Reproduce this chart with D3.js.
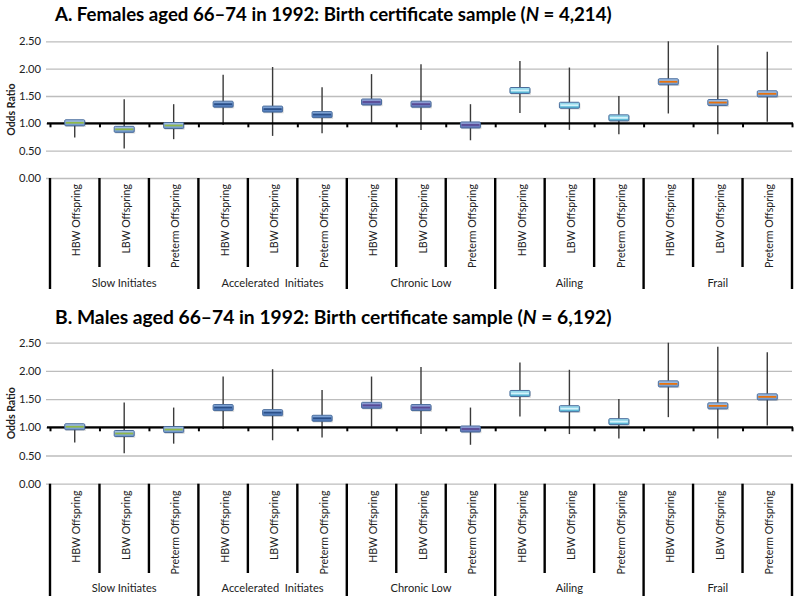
<!DOCTYPE html>
<html><head><meta charset="utf-8">
<script src="https://cdn.jsdelivr.net/npm/d3@7"></script>
<style>
html,body{margin:0;padding:0;background:#fff;}
svg{display:block;font-family:Lato,"Open Sans",sans-serif;}
</style></head>
<body>
<svg id="chart" width="800" height="603"></svg>
<script>
// ---------- data ----------
const groups = ["Slow Initiates", "Accelerated\u00a0 Initiates", "Chronic Low", "Ailing", "Frail"];
const offspring = ["HBW Offspring", "LBW Offspring", "Preterm Offspring"];
const yTicks = [0, 0.5, 1, 1.5, 2, 2.5];

const femalesOR   = [1.01, 0.89, 0.96, 1.35, 1.26, 1.16, 1.39, 1.35, 0.97, 1.60, 1.33, 1.10, 1.76, 1.38, 1.54];
const femalesLow  = [0.74, 0.54, 0.71, 0.97, 0.77, 0.82, 1.01, 0.88, 0.69, 1.19, 0.88, 0.80, 1.18, 0.80, 1.03];
const femalesHigh = [1.04, 1.44, 1.35, 1.89, 2.03, 1.66, 1.90, 2.08, 1.35, 2.14, 2.02, 1.50, 2.50, 2.43, 2.31];

const malesOR   = [1.01, 0.89, 0.96, 1.35, 1.26, 1.16, 1.39, 1.35, 0.97, 1.60, 1.33, 1.10, 1.77, 1.38, 1.54];
const malesLow  = [0.73, 0.54, 0.71, 0.97, 0.77, 0.82, 1.01, 0.88, 0.69, 1.19, 0.88, 0.80, 1.18, 0.80, 1.03];
const malesHigh = [1.04, 1.44, 1.35, 1.90, 2.03, 1.66, 1.90, 2.07, 1.35, 2.15, 2.02, 1.50, 2.50, 2.43, 2.33];

const titleA = ["A. Females aged 66\u201374 in 1992: Birth certificate sample (", "N", " = 4,214)"];
const titleB = ["B. Males aged 66\u201374 in 1992: Birth certificate sample (", "N", " = 6,192)"];

// ---------- styles ----------
const boxStyles = [
  {top: "#a9c6ea", bot: "#6a93c8", mid: "#8fb84a"},
  {top: "#8db0de", bot: "#4471b4", mid: "#2a4f88"},
  {top: "#98a8dc", bot: "#5a6cb4", mid: "#5a4a94"},
  {top: "#a6e2f2", bot: "#4aaed0", mid: "#d4f4fb"},
  {top: "#a9c6ea", bot: "#6a93c8", mid: "#e8720c"}
];

const svg = d3.select("#chart");
const defs = svg.append("defs");
boxStyles.forEach((s, i) => {
  const g = defs.append("linearGradient").attr("id", "bg" + i)
    .attr("x1", 0).attr("y1", 0).attr("x2", 0).attr("y2", 1);
  g.append("stop").attr("offset", "0%").attr("stop-color", s.top);
  g.append("stop").attr("offset", "100%").attr("stop-color", s.bot);
});

const plotL = 50, plotR = 792;
const cats = d3.range(15);
const x = d3.scaleBand().domain(cats).range([plotL, plotR]);
const xb = d3.scaleLinear().domain([0, 15]).range([plotL, plotR]);

const panels = [
  {title: titleA, or: femalesOR, lo: femalesLow, hi: femalesHigh,
   titleY: 21, yTop: 41.3, y0: 178, catY: 184, innerEnd: 267, groupEnd: 289, groupY: 287},
  {title: titleB, or: malesOR, lo: malesLow, hi: malesHigh,
   titleY: 323.5, yTop: 342.7, y0: 483.7, catY: 490.5, innerEnd: 573, groupEnd: 596, groupY: 592}
];

function fitSize(sel, base, target) {
  const w = sel.node().getComputedTextLength();
  return base * target / w;
}

panels.forEach(p => {
  const g = svg.append("g");
  const y = d3.scaleLinear().domain([0, 2.5]).range([p.y0, p.yTop]);

  // title
  const t = g.append("text").attr("x", 55).attr("y", p.titleY)
    .attr("font-weight", "bold").attr("font-size", 18).attr("fill", "#000");
  t.append("tspan").text(p.title[0]);
  t.append("tspan").attr("font-style", "italic").text(p.title[1]);
  t.append("tspan").text(p.title[2]);
  t.attr("font-size", fitSize(t, 18, 557));

  // y axis with gridlines
  const ya = g.append("g").attr("transform", `translate(46,0)`)
    .call(d3.axisLeft(y).tickValues(yTicks).tickFormat(d3.format(".2f"))
      .tickSize(-(plotR - 46)).tickPadding(5));
  ya.select(".domain").remove();
  ya.selectAll(".tick line").attr("stroke", "#bdbdbd").attr("stroke-width", 1.3);
  ya.selectAll(".tick text").attr("font-size", 11.2).attr("fill", "#222")
    .attr("font-family", "Lato, sans-serif");

  // y title
  g.append("text").attr("transform", `translate(15,${(p.y0 + p.yTop) / 2}) rotate(-90)`)
    .attr("text-anchor", "middle").attr("font-weight", "bold").attr("font-size", 10.5)
    .attr("fill", "#222").text("Odds Ratio");

  // separators below plot
  g.selectAll("line.sep").data(d3.range(16)).join("line").attr("class", "sep")
    .attr("x1", k => xb(k)).attr("x2", k => xb(k))
    .attr("y1", p.y0).attr("y2", k => k % 3 === 0 ? p.groupEnd : p.innerEnd)
    .attr("stroke", "#000").attr("stroke-width", 2.4);

  // category labels
  const cl = g.selectAll("text.cat").data(cats).join("text").attr("class", "cat")
    .attr("transform", i => `translate(${x(i) + x.bandwidth() / 2 + 2},${p.catY}) rotate(-90)`)
    .attr("text-anchor", "end").attr("dy", "0.35em").attr("font-size", 12)
    .attr("fill", "#222").text(i => offspring[i % 3]);
  cl.attr("font-size", fitSize(cl.filter(i => i === 2), 12, 84));

  // group labels
  const gl = g.selectAll("text.grp").data(groups).join("text").attr("class", "grp")
    .attr("x", (d, gi) => xb(gi * 3 + 1.5)).attr("y", p.groupY)
    .attr("text-anchor", "middle").attr("font-size", 12.5).attr("fill", "#222")
    .text(d => d);
  gl.attr("font-size", fitSize(gl.filter((d, gi) => gi === 0), 12.5, 65));

  // whiskers
  g.selectAll("line.wh").data(cats).join("line").attr("class", "wh")
    .attr("x1", i => x(i) + x.bandwidth() / 2).attr("x2", i => x(i) + x.bandwidth() / 2)
    .attr("y1", i => y(p.lo[i])).attr("y2", i => y(p.hi[i]))
    .attr("stroke", "#3a3a3a").attr("stroke-width", 1.4);

  // horizontal axis at 1.00
  const xa = g.append("g").attr("transform", `translate(0,${y(1)})`)
    .call(d3.axisBottom(xb).tickValues(d3.range(16)).tickFormat("").tickSize(4).tickSizeOuter(0));
  xa.select(".domain").attr("stroke", "#000").attr("stroke-width", 2.2)
    .attr("d", `M${plotL - 3},0H${plotR + 1}`);
  xa.selectAll(".tick line").attr("stroke", "#000").attr("stroke-width", 2);

  // boxes
  const bw = 20, bh = 6;
  const bx = g.selectAll("g.box").data(cats).join("g").attr("class", "box")
    .attr("transform", i => `translate(${x(i) + x.bandwidth() / 2},${y(p.or[i])})`);
  bx.append("rect").attr("x", -bw / 2 + 1).attr("y", -bh / 2 + 1.2).attr("width", bw).attr("height", bh)
    .attr("fill", "#000").attr("opacity", 0.15);
  bx.append("rect").attr("x", -bw / 2).attr("y", -bh / 2).attr("width", bw).attr("height", bh)
    .attr("rx", 1).attr("fill", i => `url(#bg${Math.floor(i / 3)})`)
    .attr("stroke", "#4a6d9c").attr("stroke-width", 1);
  bx.append("line").attr("x1", -bw / 2 + 1).attr("x2", bw / 2 - 1).attr("y1", 0).attr("y2", 0)
    .attr("stroke", i => boxStyles[Math.floor(i / 3)].mid).attr("stroke-width", 1.8);
});
</script>
</body></html>
